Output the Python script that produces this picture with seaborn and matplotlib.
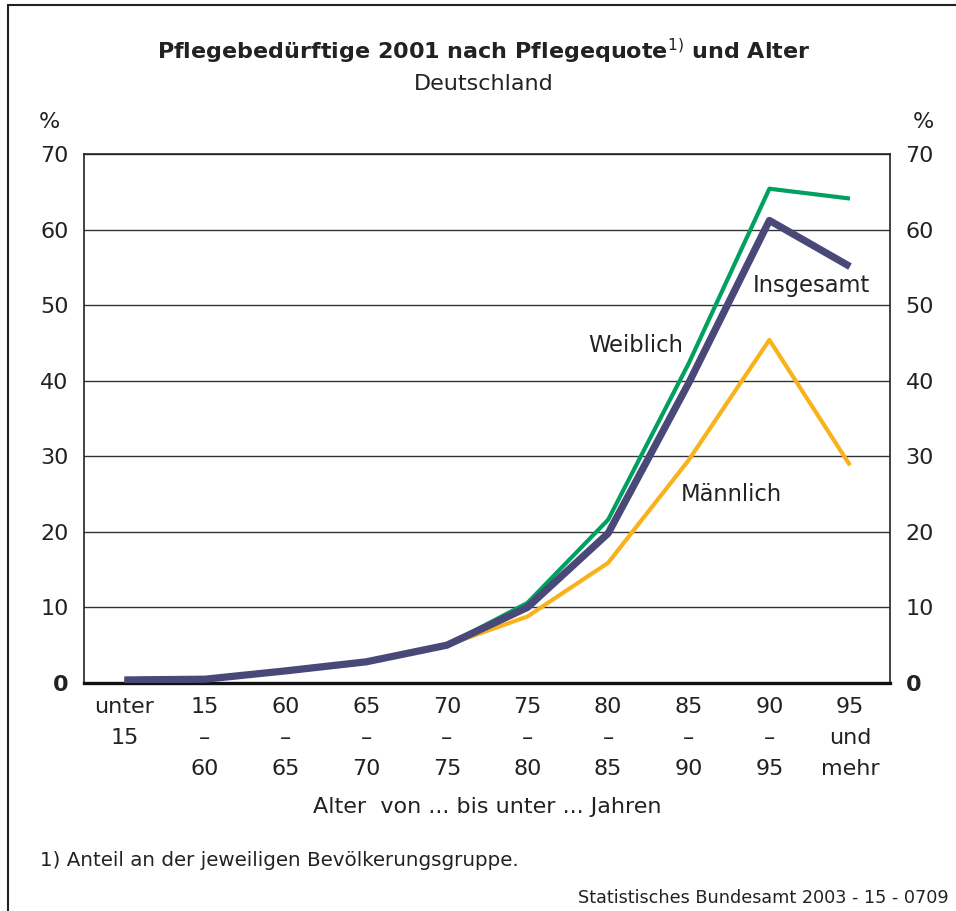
import pandas as pd
import seaborn as sns
import matplotlib.pyplot as plt
from matplotlib.lines import Line2D

# age groups and rates (percent of population group)
categories = ["unter\n15\n", "15\n–\n60", "60\n–\n65", "65\n–\n70", "70\n–\n75",
              "75\n–\n80", "80\n–\n85", "85\n–\n90", "90\n–\n95", "95\nund\nmehr"]
weiblich = [0.4, 0.5, 1.5, 2.7, 5.0, 10.6, 21.6, 42.3, 65.4, 64.1]
maennlich = [0.5, 0.6, 1.7, 2.9, 5.0, 8.8, 15.9, 29.5, 45.4, 28.8]
insgesamt = [0.4, 0.5, 1.6, 2.8, 5.0, 10.0, 19.8, 39.7, 61.2, 55.1]
yticks = [0, 10, 20, 30, 40, 50, 60, 70]

sns.set_style("white")
plt.rcParams['font.family'] = ['DejaVu Sans']

df = pd.DataFrame({"pos": range(len(categories)), "Weiblich": weiblich,
                   "Männlich": maennlich, "Insgesamt": insgesamt})

fig = plt.figure(figsize=(9.56, 9.11), dpi=100)
ax = fig.add_axes([0.0879, 0.2503, 0.8434, 0.5807])

styles = {"Weiblich": ("#00A060", 3.0), "Männlich": ("#F9B21B", 3.0),
          "Insgesamt": ("#4A4878", 5.2)}
for name, (col, lw) in styles.items():
    sns.lineplot(data=df, x="pos", y=name, ax=ax, color=col, linewidth=lw,
                 solid_capstyle="butt", zorder=3)

ax.set_xlim(-0.5, len(categories) - 0.5)
ax.set_ylim(0, 70)
ax.set_yticks(yticks)
ax.yaxis.grid(True, color="#333333", linewidth=1.0)
ax.set_axisbelow(True)
ax.tick_params(axis="y", length=0, labelsize=16, labelright=True, pad=11,
               colors="#222222")
yt = ax.yaxis.get_major_ticks()
yt[0].label1.set_fontweight("bold")
yt[0].label2.set_fontweight("bold")

ax.set_xticks([i + 0.5 for i in range(-1, len(categories))], minor=False)
ax.set_xticklabels([])
ax.set_xticks(range(len(categories)), minor=True)
ax.set_xticklabels(categories, minor=True, fontsize=16, linespacing=1.68,
                   color="#222222")
ax.tick_params(axis="x", which="major", length=8, width=1, color="#222222",
               direction="out")
ax.tick_params(axis="x", which="minor", length=0, pad=10)
ax.set_xlabel("Alter  von ... bis unter ... Jahren", fontsize=16,
              color="#222222", labelpad=13)
ax.set_ylabel("")

for s in ["left", "right", "top"]:
    ax.spines[s].set_color("#222222")
    ax.spines[s].set_linewidth(1.2)
ax.spines["bottom"].set_color("#111111")
ax.spines["bottom"].set_linewidth(2.4)

ax.text(7.79, 52.6, "Insgesamt", fontsize=16.3, color="#222222", va="center")
ax.text(5.75, 44.7, "Weiblich", fontsize=16.3, color="#222222", va="center")
ax.text(6.90, 24.9, "Männlich", fontsize=16.3, color="#222222", va="center")

fig.text(0.506, 0.944, "Pflegebedürftige 2001 nach Pflegequote$^{1)}$ und Alter",
         ha="center", va="center", fontsize=16, fontweight="bold", color="#222222")
fig.text(0.506, 0.908, "Deutschland", ha="center", va="center", fontsize=16,
         color="#222222")
fig.text(0.052, 0.866, "%", ha="center", va="center", fontsize=16, color="#222222")
fig.text(0.966, 0.866, "%", ha="center", va="center", fontsize=16, color="#222222")
fig.text(0.042, 0.055, "1) Anteil an der jeweiligen Bevölkerungsgruppe.",
         ha="left", va="center", fontsize=14.3, color="#222222")
fig.text(0.605, 0.014, "Statistisches Bundesamt 2003 - 15 - 0709",
         ha="left", va="center", fontsize=12.7, color="#222222")

# outer frame (left and top edges)
fig.add_artist(Line2D([0.0084, 0.0084], [0.0, 0.9945], color="#222222", linewidth=1.5))
fig.add_artist(Line2D([0.0084, 1.0], [0.9945, 0.9945], color="#222222", linewidth=1.5))

plt.savefig("out.png", dpi=100)
